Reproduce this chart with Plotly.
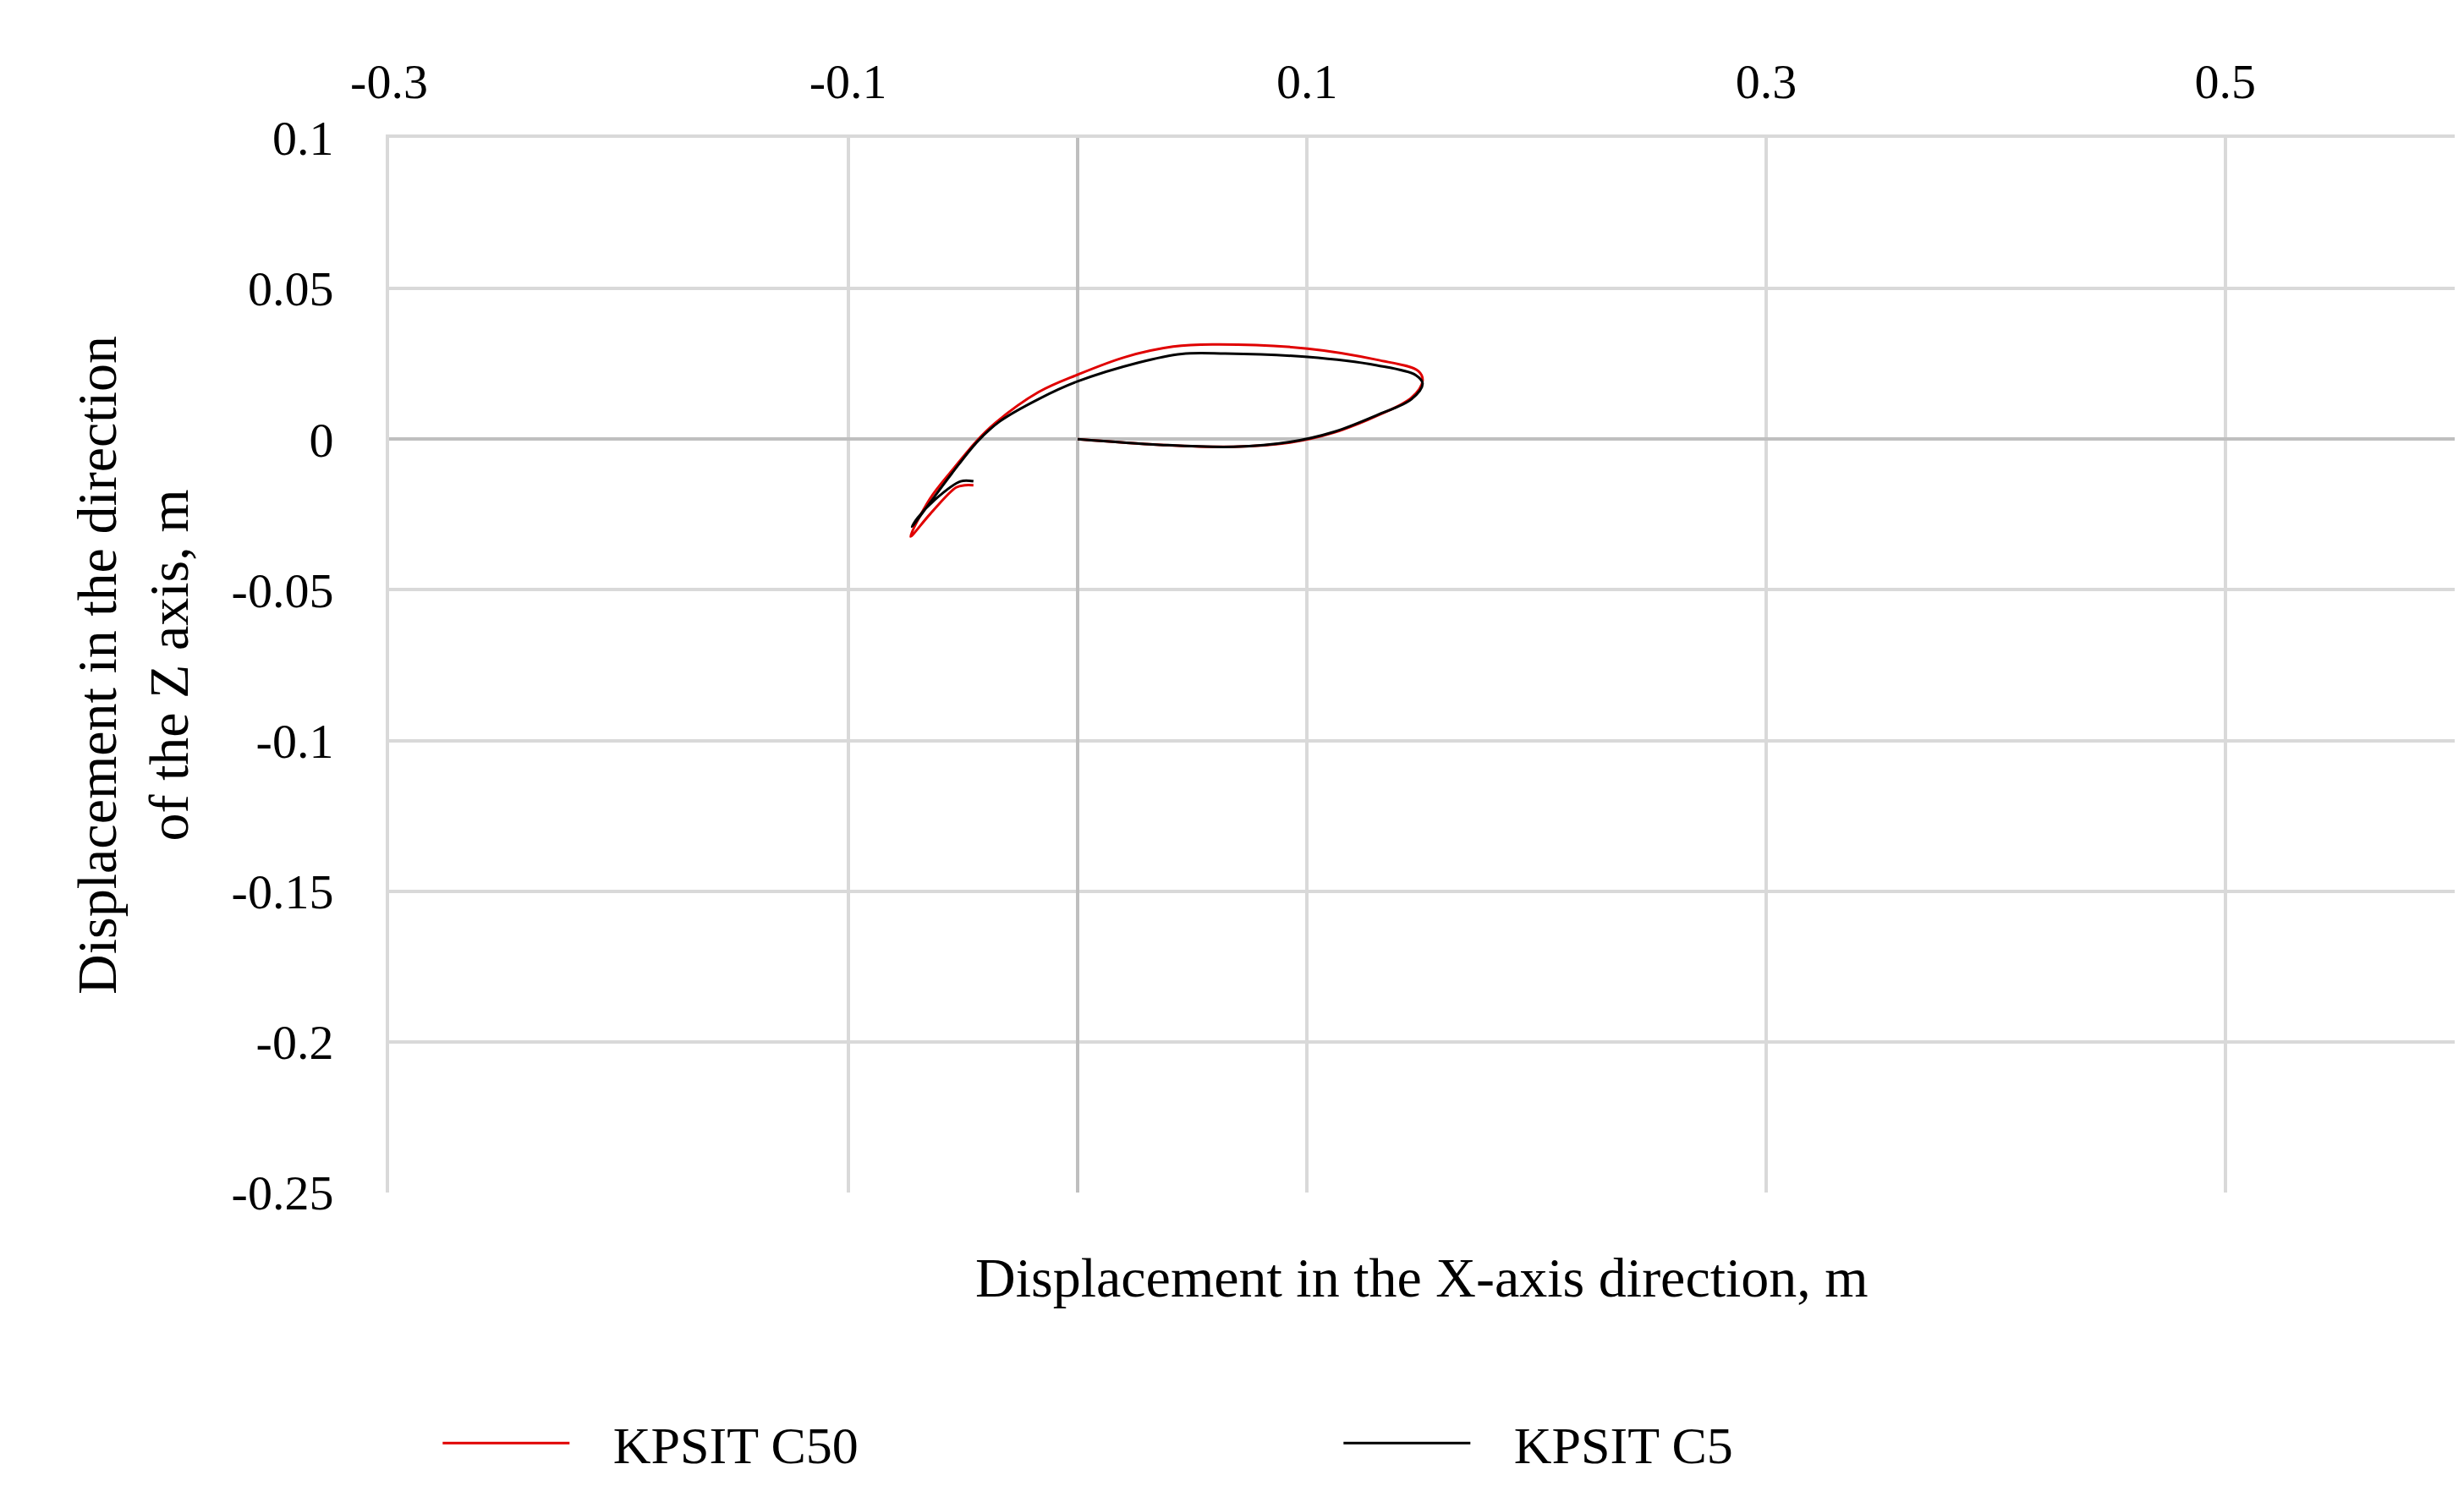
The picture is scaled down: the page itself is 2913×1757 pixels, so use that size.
import plotly.graph_objects as go

c50_x = [0, 0.0359, 0.068, 0.0926, 0.1115, 0.1304, 0.1455, 0.1503, 0.1484, 0.1304, 0.1002, 0.0586, 0.0416, 0.0208, 0, -0.017, -0.0359, -0.0435, -0.0548, -0.0643, -0.0728, -0.0643, -0.0529, -0.0491, -0.0454]
c50_z = [0, -0.00186, -0.00251, -0.00112, 0.00214, 0.00773, 0.01378, 0.01936, 0.02262, 0.02635, 0.03007, 0.03147, 0.03072, 0.02728, 0.02141, 0.01564, 0.0054, -0.0002, -0.01043, -0.01974, -0.0323, -0.02486, -0.016, -0.01527, -0.01527]
c5_x = [0, 0.0359, 0.068, 0.0926, 0.1115, 0.1304, 0.1455, 0.1503, 0.1474, 0.1304, 0.1002, 0.0643, 0.0454, 0.0265, 0, -0.017, -0.034, -0.0435, -0.0548, -0.0662, -0.0722, -0.0699, -0.0624, -0.051, -0.0454]
c5_z = [0, -0.00186, -0.00251, -0.0009, 0.0024, 0.008, 0.0133, 0.01843, 0.02123, 0.02449, 0.02728, 0.0284, 0.0283, 0.02542, 0.01918, 0.01331, 0.00587, -0.00065, -0.01136, -0.023, -0.02905, -0.02625, -0.0202, -0.01397, -0.01397]

x_tickvals = [-0.3, -0.1, 0.1, 0.3, 0.5]
x_ticktext = ["-0.3", "-0.1", "0.1", "0.3", "0.5"]
y_tickvals = [0.1, 0.05, 0, -0.05, -0.1, -0.15, -0.2, -0.25]
y_ticktext = ["0.1", "0.05", "0", "-0.05", "-0.1", "-0.15", "-0.2", "-0.25"]

font = "Liberation Serif, Times New Roman, serif"
fig = go.Figure()
fig.add_trace(go.Scatter(x=c50_x, y=c50_z, mode="lines", name="   KPSIT C50",
                         line=dict(color="#e00000", width=3, shape="spline")))
fig.add_trace(go.Scatter(x=c5_x, y=c5_z, mode="lines", name="   KPSIT C5",
                         line=dict(color="black", width=3, shape="spline")))
fig.update_layout(
    width=2913, height=1757, plot_bgcolor="white", paper_bgcolor="white",
    margin=dict(l=452, r=19, t=155, b=340),
    font=dict(family=font, size=58, color="black"),
    xaxis=dict(side="top", range=[-0.3, 0.6], tickvals=x_tickvals, ticktext=x_ticktext,
               automargin=False,
               showgrid=True, gridcolor="#d9d9d9", gridwidth=4,
               zeroline=True, zerolinecolor="#bfbfbf", zerolinewidth=4,
               showline=True, linecolor="#d9d9d9", linewidth=4, mirror=False, ticks="", ticklabelstandoff=20),
    yaxis=dict(range=[-0.25, 0.1], tickvals=y_tickvals, ticktext=y_ticktext, automargin=False,
               showgrid=True, gridcolor="#d9d9d9", gridwidth=4,
               zeroline=True, zerolinecolor="#bfbfbf", zerolinewidth=4,
               showline=True, linecolor="#d9d9d9", linewidth=4,
               ticks="", ticklabelstandoff=50,
               title=dict(text="Displacement in the direction<br>of the Z axis, m", font=dict(size=66), standoff=30)),
    legend=dict(orientation="h", x=0.46, xanchor="center", y=-0.2, yanchor="top",
                font=dict(size=62), entrywidth=900, itemwidth=150),
    annotations=[dict(text="Displacement in the X-axis direction, m", xref="paper", yref="paper",
                      x=0.5, y=-0.05, yanchor="top", showarrow=False, font=dict(size=66))],
)
fig.write_html("out.html")
